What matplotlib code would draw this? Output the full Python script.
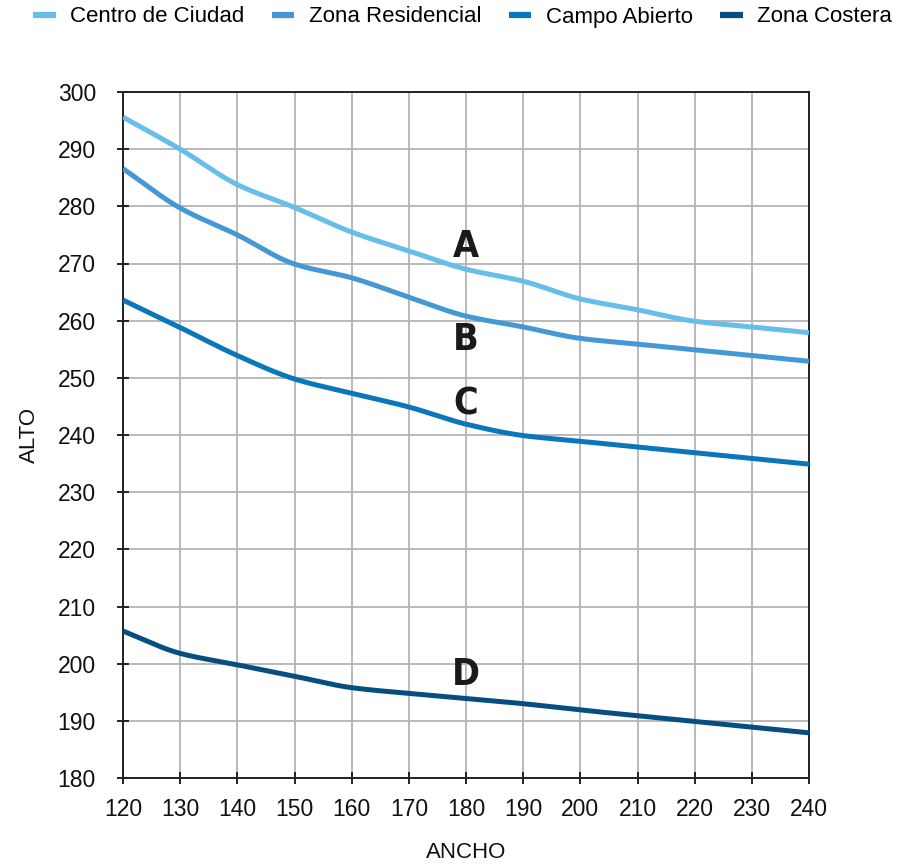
import numpy as np
import matplotlib
matplotlib.use("Agg")
import matplotlib.pyplot as plt
from matplotlib.lines import Line2D

plt.rcParams['font.family'] = ['Liberation Sans', 'DejaVu Sans']

x_vals = [120, 130, 140, 150, 160, 170, 180, 190, 200, 210, 220, 230, 240]
centro = [295.6, 290, 283.8, 279.8, 275.5, 272.2, 269, 266.9, 263.8, 261.9, 259.9, 258.9, 257.9]
residencial = [286.6, 279.7, 275, 269.9, 267.5, 264.1, 260.8, 258.9, 256.9, 255.9, 254.9, 253.9, 252.9]
campo = [263.6, 258.8, 253.9, 249.8, 247.3, 244.9, 241.9, 239.9, 238.9, 237.9, 236.9, 235.9, 234.9]
costera = [205.7, 201.8, 199.8, 197.8, 195.8, 194.8, 193.9, 193, 191.9, 190.9, 189.9, 188.9, 187.9]

series_names = ["Centro de Ciudad", "Zona Residencial", "Campo Abierto", "Zona Costera"]
series_colors = ["#66bee9", "#4499d5", "#0a77bb", "#064e80"]
series_letters = ["A", "B", "C", "D"]
letter_x = [180, 180, 180, 180]
letter_y = [272.8, 256.7, 245.3, 198.0]

x_ticks = list(range(120, 241, 10))
y_ticks = list(range(180, 301, 10))


def monotone_curve(x, y, n=25):
    x = np.asarray(x, float)
    y = np.asarray(y, float)
    h = np.diff(x)
    d = np.diff(y) / h
    m = np.zeros_like(y)
    m[0] = d[0]
    m[-1] = d[-1]
    for k in range(1, len(x) - 1):
        if d[k - 1] * d[k] <= 0:
            m[k] = 0
        else:
            w1 = 2 * h[k] + h[k - 1]
            w2 = h[k] + 2 * h[k - 1]
            m[k] = (w1 + w2) / (w1 / d[k - 1] + w2 / d[k])
    xs, ys = [], []
    for k in range(len(x) - 1):
        t = np.linspace(0, 1, n, endpoint=(k == len(x) - 2))
        h00 = 2 * t**3 - 3 * t**2 + 1
        h10 = t**3 - 2 * t**2 + t
        h01 = -2 * t**3 + 3 * t**2
        h11 = t**3 - t**2
        xs.append(x[k] + t * h[k])
        ys.append(h00 * y[k] + h10 * h[k] * m[k] + h01 * y[k + 1] + h11 * h[k] * m[k + 1])
    return np.concatenate(xs), np.concatenate(ys)


fig = plt.figure(figsize=(9.02, 8.64), dpi=100)
ax = fig.add_axes([123 / 902, 1 - 778 / 864, (809 - 123) / 902, (778 - 92) / 864])

all_series = [centro, residencial, campo, costera]
for vals, col in zip(all_series, series_colors):
    cx, cy = monotone_curve(x_vals, vals)
    ax.plot(cx, cy, color=col, lw=3.6, solid_capstyle='butt', zorder=3)

for letter, lx, ly in zip(series_letters, letter_x, letter_y):
    ax.text(lx, ly, letter, ha='center', va='center', fontsize=27, fontweight='bold',
            fontstretch='condensed', family=['DejaVu Sans'], color='#1a1a1a', zorder=4)

ax.set_xlim(120, 240)
ax.set_ylim(180, 300)
ax.set_xticks(x_ticks)
ax.set_yticks(y_ticks)
ax.grid(True, color='#b4b4b4', lw=1.3, zorder=0)
ax.set_axisbelow(True)
for s in ax.spines.values():
    s.set_color('#222222')
    s.set_linewidth(1.4)
ax.tick_params(axis='both', direction='inout', length=9, width=1.4, color='#222222',
               labelsize=16.5, labelcolor='#111111')
ax.tick_params(axis='y', pad=15)
ax.tick_params(axis='x', pad=10)
ax.set_xlabel("ANCHO", fontsize=16, labelpad=15, color='#111111')
ax.set_ylabel("ALTO", fontsize=16, labelpad=13, color='#111111')

handles = [Line2D([0], [0], color=c, lw=4.5, solid_capstyle='butt') for c in series_colors]
fig.legend(handles, series_names, loc='center', bbox_to_anchor=(0.513, 1 - 17 / 864), ncol=4,
           frameon=False, fontsize=16, handlelength=1.0, handletextpad=0.65,
           columnspacing=1.25, borderaxespad=0, borderpad=0)

fig.savefig("out.png", dpi=100)
